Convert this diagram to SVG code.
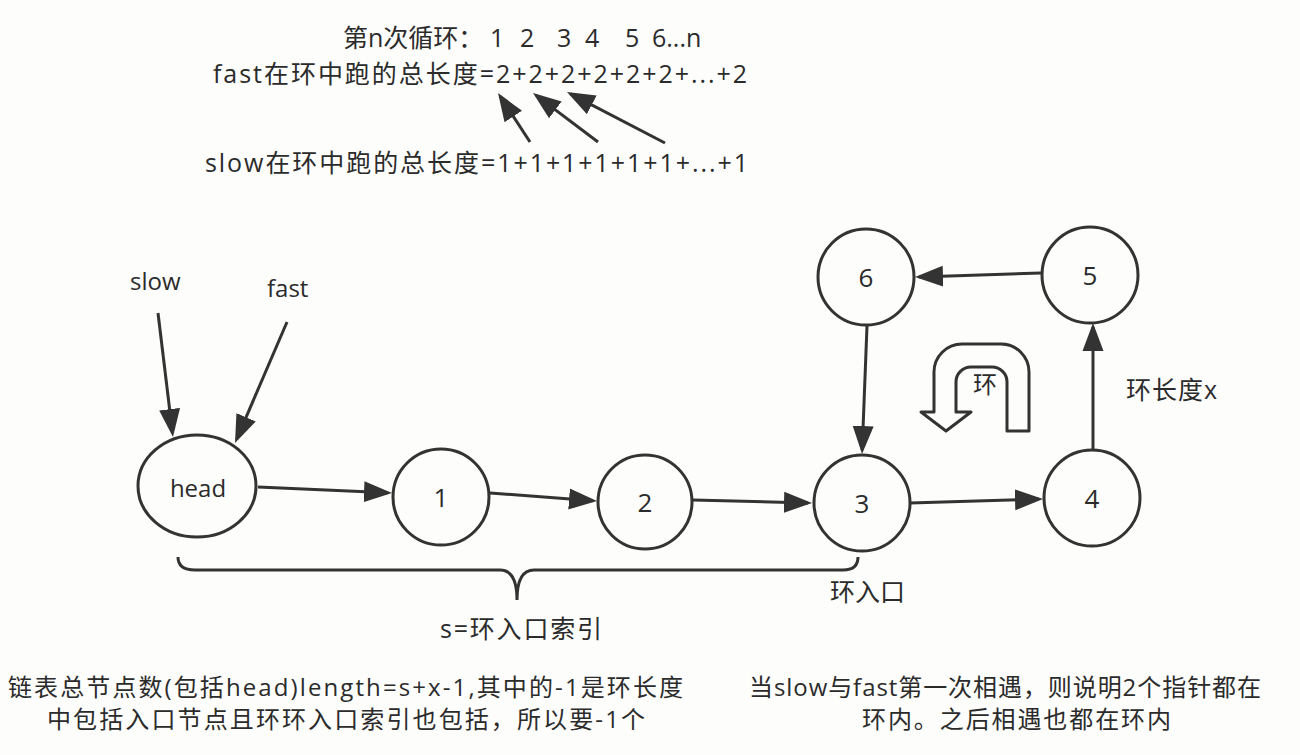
<svg xmlns="http://www.w3.org/2000/svg" width="1300" height="755" viewBox="0 0 1300 755">
<style>
text{font-family:'Open Sans','Noto Sans CJK SC',sans-serif;font-size:24px;fill:#2b2b2b}
.big{font-size:25px}
.num{font-size:26px}
.nd{fill:#fdfdfb;stroke:#333;stroke-width:3}
.cn line{stroke:#333;stroke-width:3;marker-end:url(#ah)}
.ctr{text-anchor:middle}
</style>
<defs>
<marker id="ah" markerUnits="userSpaceOnUse" markerWidth="29" markerHeight="22" refX="24" refY="11" orient="auto"><path d="M0,0.5 L28,11 L0,21.5 z" fill="#333"/></marker>
</defs>
<rect width="1300" height="755" fill="#fdfdfb"/>
<g id="top-text">
<text class="big" x="343" y="47">第n次循环：<tspan x="490">1</tspan><tspan x="520">2</tspan><tspan x="557">3</tspan><tspan x="585">4</tspan><tspan x="625">5</tspan><tspan x="652">6...n</tspan></text>
<text class="big" x="213" y="83" textLength="534" lengthAdjust="spacing">fast在环中跑的总长度=2+2+2+2+2+2+...+2</text>
<text class="big" x="205" y="172" textLength="543" lengthAdjust="spacing">slow在环中跑的总长度=1+1+1+1+1+1+...+1</text>
</g>
<g id="label-slow"><text x="130" y="290">slow</text></g>
<g id="label-fast"><text x="267" y="297">fast</text></g>
<g id="node-head"><ellipse class="nd" cx="197" cy="486" rx="59" ry="51"/><text class="ctr" x="198" y="497">head</text></g>
<g id="node-1"><circle class="nd" cx="441" cy="497" r="48"/><text class="ctr num" x="441" y="507">1</text></g>
<g id="node-2"><circle class="nd" cx="645" cy="502" r="47"/><text class="ctr num" x="645" y="512">2</text></g>
<g id="node-3"><circle class="nd" cx="862" cy="503" r="48"/><text class="ctr num" x="862" y="513">3</text></g>
<g id="node-4"><circle class="nd" cx="1092" cy="498" r="48"/><text class="ctr num" x="1092" y="508">4</text></g>
<g id="node-5"><circle class="nd" cx="1090" cy="275" r="48"/><text class="ctr num" x="1090" y="285">5</text></g>
<g id="node-6"><circle class="nd" cx="866" cy="277" r="48"/><text class="ctr num" x="866" y="287">6</text></g>
<g id="loop-symbol">
<path d="M1029,431 L1029,372 A28,28 0 0 0 1001,344 L962,344 A28,28 0 0 0 934,372 L934,412 L921,412 L946,431 L971,412 L956,412 L956,382 A15,15 0 0 1 971,367 L992,367 A15,15 0 0 1 1007,382 L1007,431 Z" fill="#fdfdfb" stroke="#333" stroke-width="3" stroke-linejoin="round"/>
<text x="973" y="393">环</text>
</g>
<g id="label-loop-length"><text class="big" x="1126" y="399" textLength="91" lengthAdjust="spacing">环长度x</text></g>
<g id="connectors" class="cn">
<line x1="158" y1="313" x2="172.5" y2="433"/>
<line x1="287" y1="322" x2="236.6" y2="439.3"/>
<line x1="258" y1="487" x2="388" y2="492.8"/>
<line x1="490" y1="493" x2="593" y2="500.7"/>
<line x1="693" y1="500" x2="808" y2="502.9"/>
<line x1="910" y1="503" x2="1039" y2="499.1"/>
<line x1="1093" y1="450" x2="1093" y2="327"/>
<line x1="1041" y1="273" x2="919" y2="276.9"/>
<line x1="867" y1="326" x2="862.2" y2="450"/>
<line x1="530" y1="142" x2="500.2" y2="96.4"/>
<line x1="598" y1="142" x2="536.2" y2="95.4"/>
<line x1="665" y1="143" x2="570.5" y2="93.8"/>
</g>
<g id="brace">
<path d="M178,557 Q178,570 195,570 L500,570 Q517,570 517,600 Q517,570 534,570 L843,570 Q858,570 858,557" fill="none" stroke="#333" stroke-width="3"/>
</g>
<g id="label-entry"><text class="big" x="830" y="601" textLength="75" lengthAdjust="spacing">环入口</text></g>
<g id="label-s"><text class="big" x="440" y="638" textLength="162" lengthAdjust="spacing">s=环入口索引</text></g>
<g id="note-left">
<text x="8" y="696" textLength="675" lengthAdjust="spacing">链表总节点数(包括head)length=s+x-1,其中的-1是环长度</text>
<text x="47" y="728" textLength="598" lengthAdjust="spacing">中包括入口节点且环环入口索引也包括，所以要-1个</text>
</g>
<g id="note-right">
<text x="749" y="696" textLength="512" lengthAdjust="spacing">当slow与fast第一次相遇，则说明2个指针都在</text>
<text x="862" y="728" textLength="309" lengthAdjust="spacing">环内。之后相遇也都在环内</text>
</g>
</svg>
